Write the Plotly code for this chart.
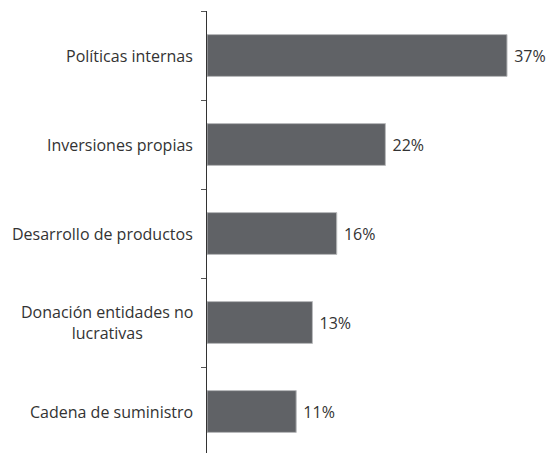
import plotly.graph_objects as go

categories = ["Políticas internas", "Inversiones propias", "Desarrollo de productos",
              "Donación entidades no<br>lucrativas", "Cadena de suministro"]
values = [37, 22, 16, 13, 11]
labels = ["37%", "22%", "16%", "13%", "11%"]

FONT = "Open Sans"
fig = go.Figure(go.Bar(
    y=categories, x=values, orientation="h",
    marker=dict(color="#606266", line=dict(color="#b9babc", width=1)),
    width=0.47,
    text=[" " + t for t in labels], textposition="outside", cliponaxis=False,
    textfont=dict(family=FONT, size=16, color="#333333"),
))
for c in categories:
    fig.add_annotation(x=0, xref="paper", y=c, yref="y", text=c, showarrow=False,
                       xanchor="right", align="center", xshift=-12,
                       font=dict(family=FONT, size=16, color="#333333"))
fig.update_layout(
    width=550, height=456, margin=dict(l=207, r=0, t=11, b=0),
    paper_bgcolor="white", plot_bgcolor="white", showlegend=False,
    font=dict(family=FONT, size=16, color="#333333"),
)
fig.update_xaxes(range=[0, 42.3], visible=False)
fig.update_yaxes(type="category", range=[4.5, -0.5], showticklabels=False,
                 showline=True, linecolor="#333333", linewidth=1,
                 ticks="outside", tickson="boundaries", ticklen=5, tickcolor="#555555",
                 showgrid=False, zeroline=False)
fig.write_html("out.html", config={"displayModeBar": False},
               post_script="document.body.style.margin='0';document.body.style.overflow='hidden';")
